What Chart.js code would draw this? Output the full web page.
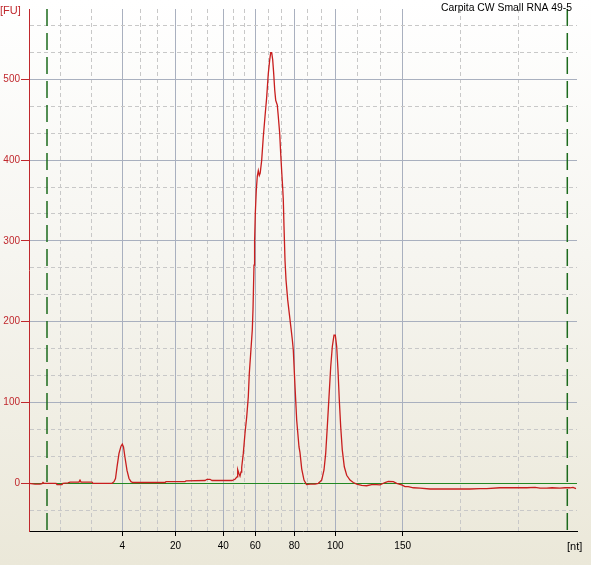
<!DOCTYPE html>
<html>
<head>
<meta charset="utf-8">
<script src="https://cdn.jsdelivr.net/npm/chart.js"></script>
<style>
    html, body { margin: 0; padding: 0; }
    body {
        width: 591px; height: 565px; overflow: hidden;
        background: linear-gradient(to bottom, #ffffff 0%, #f6f5f0 45%, #ebe8d9 100%);
    }
    canvas { display: block; }
</style>
</head>
<body>
<canvas id="gelChart" width="591" height="565"></canvas>
<script>
    // ladder: migration position (axis units) of each size label
    const ladderSizes = ['4', '20', '40', '60', '80', '100', '150'];
    const ladderPos = [93.3, 146.5, 194.3, 226.3, 265.2, 306.3, 373.7];
    const fuLabels = [0, 100, 200, 300, 400, 500];
    const markerPos = [18, 538.3];

    // electropherogram trace
    const traceX = [0, 6, 11, 13, 14, 15, 27, 28, 33, 34, 39, 41, 50, 51, 52, 63, 64, 83, 85, 86.5,
        88, 90, 92, 93.3, 94.5, 96, 98, 100, 102, 104, 136, 137, 156, 157, 176, 178, 181, 183, 203, 206,
        208, 208.7, 210, 211, 212, 212.7, 214.3, 216, 217.7, 219.3, 220.3, 221.7, 223.3, 224, 225, 225.6,
        226.3, 227.3, 228.3, 229.3, 230.3, 231.2, 232.7, 234.3, 236, 237.7, 239.3, 240.7, 241.7, 242.7,
        243.7, 244.7, 245.7, 246.7, 248.3, 249.3, 250.7, 251.7, 252.7, 253.7, 254.3, 255, 256, 257,
        258.7, 260.3, 262, 263.3, 264.3, 266, 267.7, 270, 271, 272.7, 275, 277.5, 281, 286, 289.3, 291,
        292.7, 295, 296.7, 298.3, 300, 301.7, 303.3, 305, 306.3, 307.7, 309, 310.3, 311.7, 313.3, 315.3,
        317.7, 321, 324.3, 327.7, 332.7, 337.7, 342.7, 347.7, 351, 356, 359.3, 364.3, 367.7, 372.7, 376,
        379.3, 384.3, 391, 401, 427.7, 441, 451, 457.7, 471, 486, 497.7, 506, 511, 517.7, 523, 531, 536,
        541, 544, 547];
    const traceFU = [0, -1, -1, -0.5, 1, 0, 0, -1.5, -1.5, 0, 0.5, 1.5, 1.5, 4, 1.5, 1.5, 0, 0, 2, 6,
        20, 37, 46, 48.5, 45, 32, 16, 6, 2, 1, 1, 2, 2, 3, 3.5, 5, 5, 3.5, 3.5, 5,
        8, 17, 12, 9, 14, 20, 37, 62, 82, 107, 136, 161, 190, 215, 270, 300,
        334, 363, 380, 387, 381, 384, 400, 429, 454, 478, 507, 524, 533, 533,
        524, 507, 487, 474, 468, 454, 433, 408, 386, 365, 351, 318, 276, 252,
        227, 210, 192, 178, 165, 120, 78, 45, 38, 18, 4, -1.5, -1, -1, 0, 2,
        4, 16.5, 37, 70, 107, 144, 169, 183.5, 183.5, 169, 140, 103, 70, 41, 20.5,
        10, 4, 1, -1, -2.5, -3, -1.5, -1.5, -2, 1, 2.5, 2, 0, -2, -4,
        -4, -5.5, -6, -7, -7, -7, -6.5, -6.5, -5.5, -5.5, -5.5, -5, -6, -6, -5.5, -6, -5.5,
        -5.5, -5, -6.5];

    const X_MIN = 0, X_MAX = 548, Y_MIN = -59, Y_MAX = 587;
    const RED = '#c0282d';
    const MAJOR_GRID = '#a9b0bf';
    const MINOR_GRID = '#c8c8c8';
    const BASE_GREEN = '#228822';

    // x ticks: ladder positions plus two dashed lines in every gap
    function buildXTicks() {
        const stops = [X_MIN].concat(ladderPos, [X_MAX]);
        const ticks = [];
        for (let i = 0; i < stops.length - 1; i++) {
            const a = stops[i], b = stops[i + 1];
            if (i > 0) ticks.push({ value: a, lab: ladderSizes[i - 1] });
            ticks.push({ value: a + (b - a) / 3, lab: '' });
            ticks.push({ value: a + 2 * (b - a) / 3, lab: '' });
        }
        return ticks;
    }

    // y ticks: labelled every 100 FU, dashed lines at thirds
    function buildYTicks() {
        const ticks = [];
        for (let k = -1; k <= 17; k++) {
            const v = k * 100 / 3;
            const lab = k % 3 === 0 ? Math.round(v) : null;
            ticks.push({ value: v, lab: fuLabels.includes(lab) ? String(lab) : '' });
        }
        return ticks;
    }

    const isMajor = ctx => ctx.tick && ctx.tick.lab !== '';

    const textPlugin = {
        id: 'gelText',
        afterDraw(chart) {
            const c = chart.ctx;
            c.save();
            c.font = '11px "Liberation Sans", Arial, sans-serif';
            c.textBaseline = 'alphabetic';
            c.fillStyle = RED;
            c.textAlign = 'left';
            c.fillText('[FU]', 0, 13.5);
            c.fillStyle = '#000';
            c.textAlign = 'left';
            c.fillText('[nt]', 567, 550);
            c.font = '10.4px "Liberation Sans", Arial, sans-serif';
            c.textAlign = 'right';
            c.fillText('Carpita CW Small RNA 49-5', 572, 11);
            c.restore();
        }
    };

    const markerSets = markerPos.map(x => ({
        data: [{ x: x, y: Y_MAX }, { x: x, y: Y_MIN }],
        borderColor: '#1d6b1d',
        borderWidth: 1.5,
        borderDash: [17, 7],
        pointRadius: 0
    }));

    new Chart(document.getElementById('gelChart'), {
        type: 'line',
        data: {
            datasets: [{
                label: 'Sample',
                data: traceX.map((x, i) => ({ x: x, y: traceFU[i] })),
                borderColor: '#c81e1e',
                borderWidth: 1.3,
                pointRadius: 0,
                tension: 0
            }].concat(markerSets)
        },
        options: {
            responsive: false,
            animation: false,
            layout: { padding: { left: 0, right: 14, top: 9, bottom: 0 } },
            plugins: {
                legend: { display: false },
                tooltip: { enabled: false }
            },
            scales: {
                x: {
                    type: 'linear',
                    min: X_MIN,
                    max: X_MAX,
                    afterBuildTicks: scale => { scale.ticks = buildXTicks(); },
                    afterFit: scale => { scale.height = 34; },
                    border: {
                        color: '#000',
                        width: 1,
                        dash: ctx => isMajor(ctx) ? [] : [4, 3]
                    },
                    grid: {
                        color: ctx => isMajor(ctx) ? MAJOR_GRID : MINOR_GRID,
                        lineWidth: 1,
                        tickLength: 5,
                        tickColor: ctx => isMajor(ctx) ? '#000' : 'rgba(0,0,0,0)',
                        tickBorderDash: []
                    },
                    ticks: {
                        autoSkip: false,
                        maxRotation: 0,
                        padding: 4,
                        color: '#000',
                        font: { family: '"Liberation Sans", Arial, sans-serif', size: 10 },
                        callback: function (value, index) {
                            const t = this.ticks[index];
                            return t ? t.lab : '';
                        }
                    }
                },
                y: {
                    type: 'linear',
                    min: Y_MIN,
                    max: Y_MAX,
                    afterBuildTicks: scale => { scale.ticks = buildYTicks(); },
                    afterFit: scale => { scale.width = 29; },
                    border: {
                        color: RED,
                        width: 1,
                        dash: ctx => isMajor(ctx) ? [] : [4, 3]
                    },
                    grid: {
                        color: ctx => {
                            if (ctx.tick && ctx.tick.value === 0) return BASE_GREEN;
                            return isMajor(ctx) ? MAJOR_GRID : MINOR_GRID;
                        },
                        lineWidth: 1,
                        tickLength: 8,
                        tickColor: ctx => isMajor(ctx) ? RED : 'rgba(0,0,0,0)',
                        tickBorderDash: []
                    },
                    ticks: {
                        autoSkip: false,
                        padding: 1,
                        color: RED,
                        font: { family: '"Liberation Sans", Arial, sans-serif', size: 10 },
                        callback: function (value, index) {
                            const t = this.ticks[index];
                            return t ? t.lab : '';
                        }
                    }
                }
            }
        },
        plugins: [textPlugin]
    });
</script>
</body>
</html>
